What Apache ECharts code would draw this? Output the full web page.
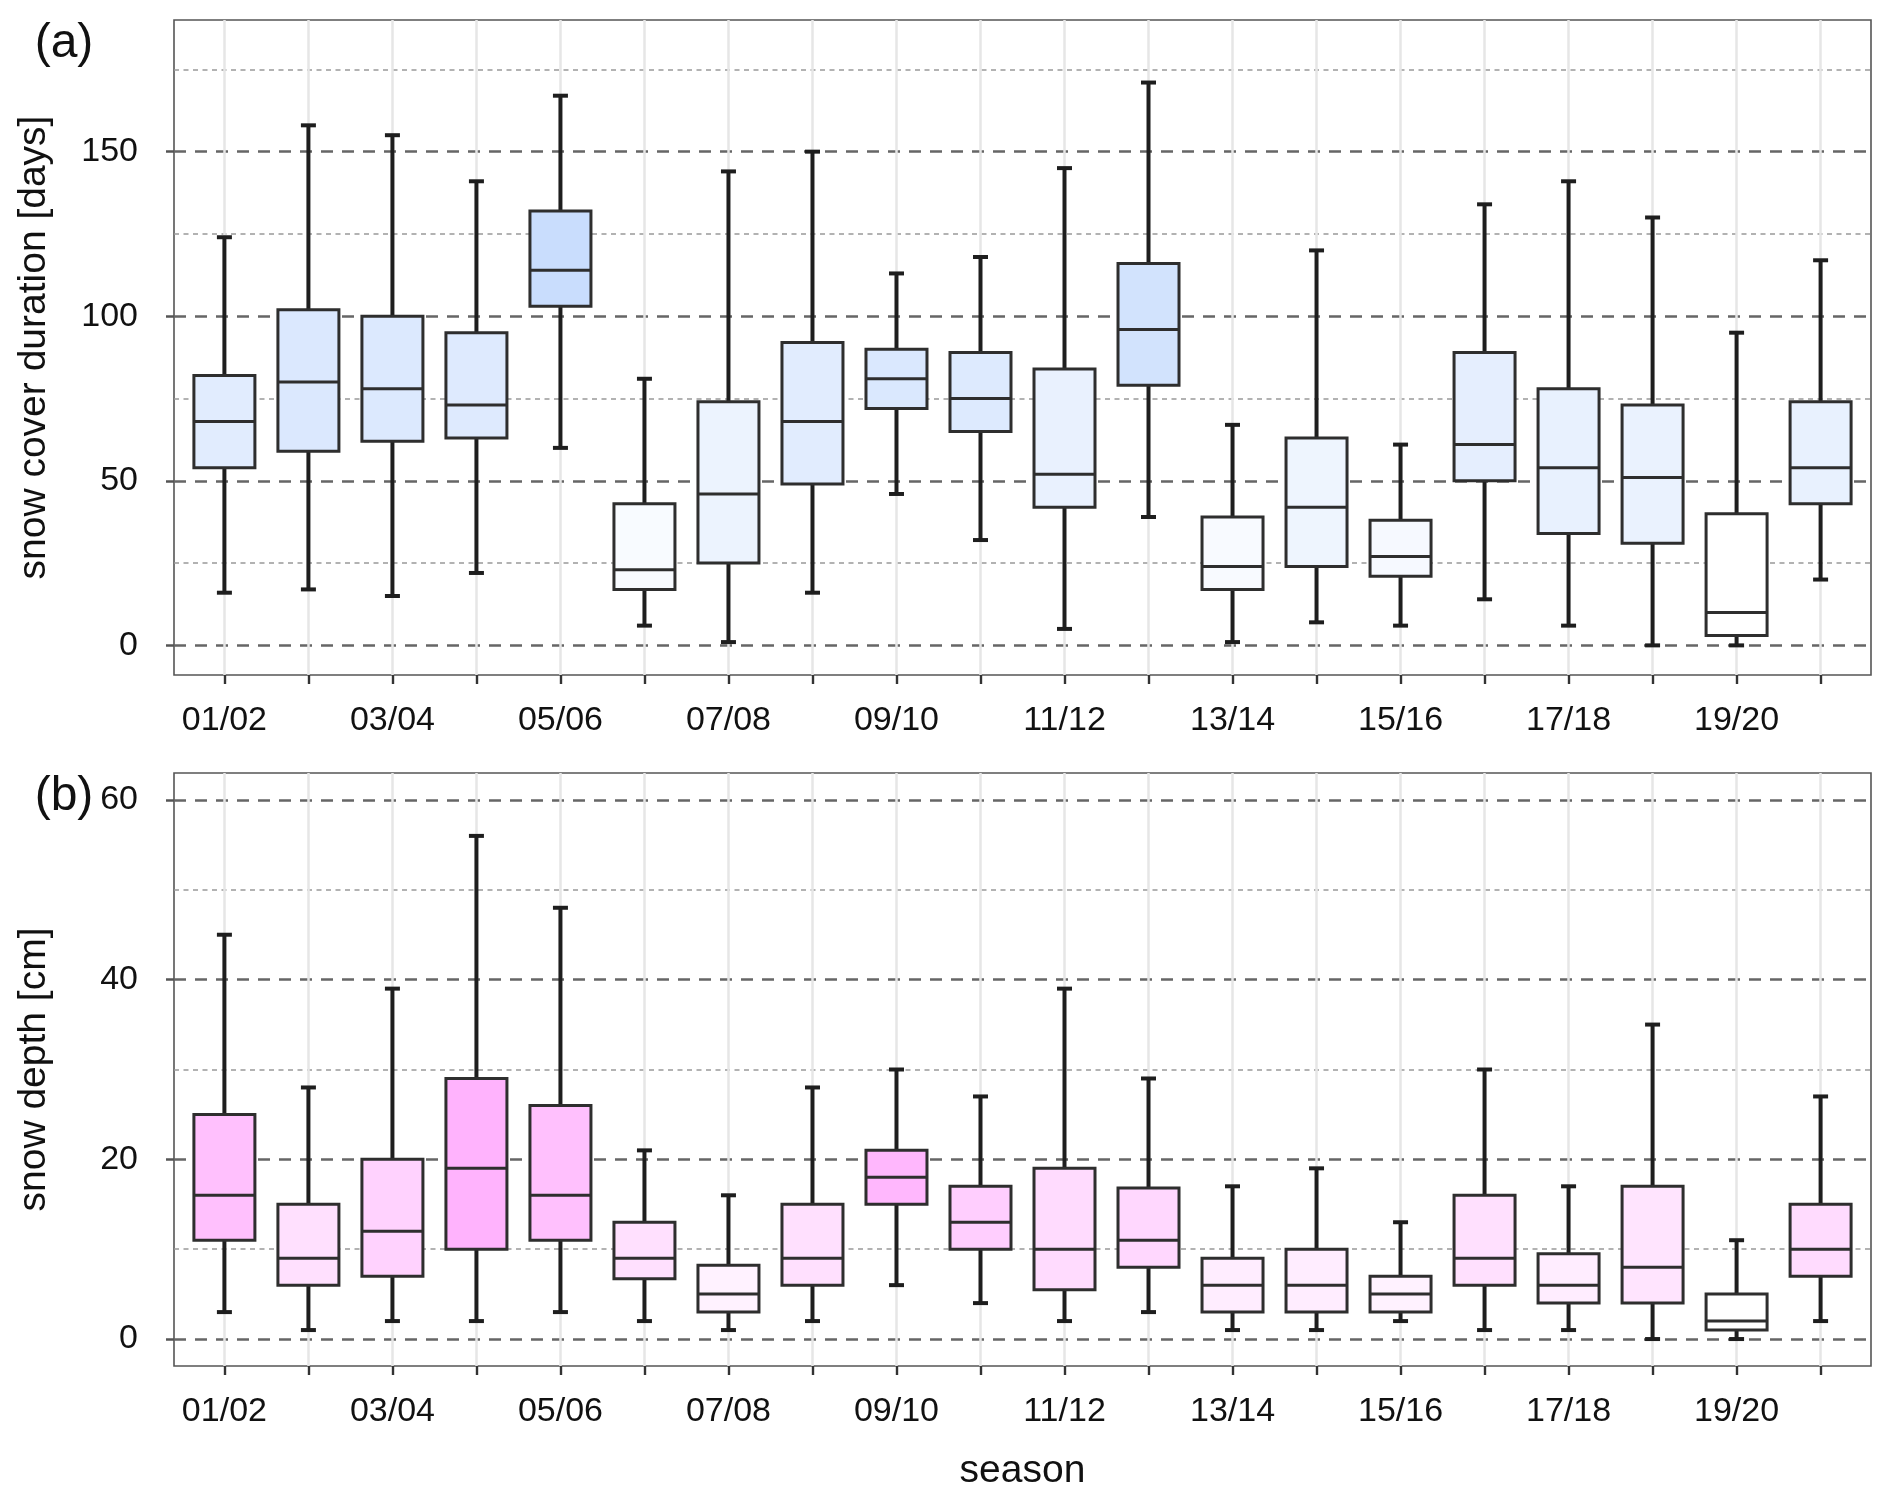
<!DOCTYPE html>
<html>
<head>
<meta charset="utf-8">
<script src="https://cdn.jsdelivr.net/npm/echarts@6/dist/echarts.min.js"></script>
<style>
html,body{margin:0;padding:0;background:#fff;}
#chart{width:1892px;height:1506px;}
</style>
</head>
<body>
<div id="chart"></div>
<script>
// ---- data ----
const seasons = ['01/02','02/03','03/04','04/05','05/06','06/07','07/08','08/09','09/10','10/11',
                 '11/12','12/13','13/14','14/15','15/16','16/17','17/18','18/19','19/20','20/21'];
const labelSeasonIdx = [0,2,4,6,8,10,12,14,16,18];

// (a) snow cover duration [days]
const durMin = [16,17,15,22,60,6,1,16,46,32,5,39,1,7,6,14,6,0,0,20];
const durQ1  = [54,59,62,63,103,17,25,49,72,65,42,79,17,24,21,50,34,31,3,43];
const durMed = [68,80,78,73,114,23,46,68,81,75,52,96,24,42,27,61,54,51,10,54];
const durQ3  = [82,102,100,95,132,43,74,92,90,89,84,116,39,63,38,89,78,73,40,74];
const durMax = [124,158,155,141,167,81,144,150,113,118,145,171,67,120,61,134,141,130,95,117];

// (b) snow depth [cm]
const depMin = [3,1,2,2,3,2,1,2,6,4,2,3,1,1,2,1,1,0,0,2];
const depQ1  = [11,6,7,10,11,6.7,3,6,15,10,5.5,8,3,3,3,6,4,4,1,7];
const depMed = [16,9,12,19,16,9,5,9,18,13,10,11,6,6,5,9,6,8,2,10];
const depQ3  = [25,15,20,29,26,13,8.2,15,21,17,19,16.8,9,10,7,16,9.5,17,5,15];
const depMax = [45,28,39,56,48,21,16,28,30,27,39,29,17,19,13,30,17,35,11,27];

const durTicks = [0,50,100,150];
const durMinor = [25,75,125,175];
const depTicks = [0,20,40,60];
const depMinor = [10,30,50];

// ---- build ----
function build(mn,q1,md,q3,mx){
  return seasons.map((s,i)=>[i,mn[i],q1[i],md[i],q3[i],mx[i]]);
}
const FONT = "'Liberation Sans', Arial, Helvetica, sans-serif";

function renderBox(params, api){
  const x = api.value(0);
  const pLo = api.coord([x, api.value(1)]);
  const pQ1 = api.coord([x, api.value(2)]);
  const pMd = api.coord([x, api.value(3)]);
  const pQ3 = api.coord([x, api.value(4)]);
  const pHi = api.coord([x, api.value(5)]);
  const cx = pMd[0];
  const hw = 30.5, cw = 7.5;
  const wStyle = {stroke:'#1e1e1e', lineWidth:4};
  const bStyle = {stroke:'#2e2e2e', lineWidth:3};
  return {type:'group', children:[
    {type:'line', shape:{x1:cx,y1:pQ3[1],x2:cx,y2:pHi[1]}, style:wStyle},
    {type:'line', shape:{x1:cx,y1:pQ1[1],x2:cx,y2:pLo[1]}, style:wStyle},
    {type:'line', shape:{x1:cx-cw,y1:pHi[1],x2:cx+cw,y2:pHi[1]}, style:wStyle},
    {type:'line', shape:{x1:cx-cw,y1:pLo[1],x2:cx+cw,y2:pLo[1]}, style:wStyle},
    {type:'rect', shape:{x:cx-hw,y:pQ3[1],width:hw*2,height:pQ1[1]-pQ3[1]},
      style:{fill:api.visual('color'), stroke:'#2e2e2e', lineWidth:3}},
    {type:'line', shape:{x1:cx-hw,y1:pMd[1],x2:cx+hw,y2:pMd[1]}, style:bStyle}
  ]};
}

function xAxis(gi, withName){
  const ax = {
    type:'value', gridIndex:gi, min:-0.6, max:19.6,
    axisLine:{show:false, onZero:false},
    axisTick:{show:true, length:9, lineStyle:{color:'#333', width:2.4},
      customValues: seasons.map((s,i)=>i)},
    axisLabel:{show:true, margin:29, fontSize:34, color:'#111', fontFamily:FONT,
      customValues: labelSeasonIdx, formatter:(v)=>seasons[v] || ''},
    splitLine:{show:true, lineStyle:{color:'#e6e6e6', width:2.5}}
  };
  if (withName){
    ax.name = 'season';
    ax.nameLocation = 'middle';
    ax.nameGap = 86;
    ax.nameTextStyle = {fontSize:39, color:'#111', fontFamily:FONT};
  }
  return ax;
}
function yMajor(gi, mn, mx, ticks, name){
  return {
    type:'value', gridIndex:gi, min:mn, max:mx,
    name:name, nameLocation:'middle', nameGap:120,
    nameTextStyle:{fontSize:39, color:'#111', fontFamily:FONT},
    axisLine:{show:false, onZero:false},
    axisTick:{show:true, length:8, lineStyle:{color:'#555', width:2.5}, customValues:ticks},
    axisLabel:{show:true, margin:36, fontSize:34, color:'#111', fontFamily:FONT, customValues:ticks},
    splitLine:{show:true, lineStyle:{color:'#666', width:2.5, type:[12,9]}}
  };
}
function yMinor(gi, mn, mx, ticks){
  return {
    type:'value', gridIndex:gi, min:mn, max:mx,
    axisLine:{show:false, onZero:false},
    axisTick:{show:false, customValues:ticks},
    axisLabel:{show:false, customValues:ticks},
    splitLine:{show:true, lineStyle:{color:'#999', width:1.5, type:[5,4.5]}}
  };
}

const chart = echarts.init(document.getElementById('chart'), null, {renderer:'canvas'});
chart.setOption({
  backgroundColor:'#fff',
  animation:false,
  textStyle:{fontFamily:FONT},
  graphic:[
    {type:'text', x:64, y:44, style:{text:'(a)', fontSize:48, fill:'#111', fontFamily:FONT, align:'center', verticalAlign:'middle'}},
    {type:'text', x:64, y:797, style:{text:'(b)', fontSize:48, fill:'#111', fontFamily:FONT, align:'center', verticalAlign:'middle'}}
  ],
  grid:[
    {left:174, top:20, width:1697, height:655, show:true, borderColor:'#555', borderWidth:1.6, backgroundColor:'transparent'},
    {left:174, top:773, width:1697, height:593, show:true, borderColor:'#555', borderWidth:1.6, backgroundColor:'transparent'}
  ],
  xAxis:[ xAxis(0,false), xAxis(1,true) ],
  yAxis:[
    yMajor(0, -9, 190, durTicks, 'snow cover duration [days]'),
    yMinor(0, -9, 190, durMinor),
    yMajor(1, -3, 63, depTicks, 'snow depth [cm]'),
    yMinor(1, -3, 63, depMinor)
  ],
  visualMap:[
    {type:'continuous', show:false, seriesIndex:0, dimension:3, min:10, max:114,
      inRange:{color:['#ffffff','#c9ddfd']}},
    {type:'continuous', show:false, seriesIndex:1, dimension:3, min:2, max:19,
      inRange:{color:['#ffffff','#ffb3fd']}}
  ],
  series:[
    {type:'custom', name:'duration', xAxisIndex:0, yAxisIndex:0, renderItem:renderBox,
      encode:{x:0, y:[1,2,3,4,5]}, data:build(durMin,durQ1,durMed,durQ3,durMax), z:5},
    {type:'custom', name:'depth', xAxisIndex:1, yAxisIndex:2, renderItem:renderBox,
      encode:{x:0, y:[1,2,3,4,5]}, data:build(depMin,depQ1,depMed,depQ3,depMax), z:5}
  ]
});
</script>
</body>
</html>
